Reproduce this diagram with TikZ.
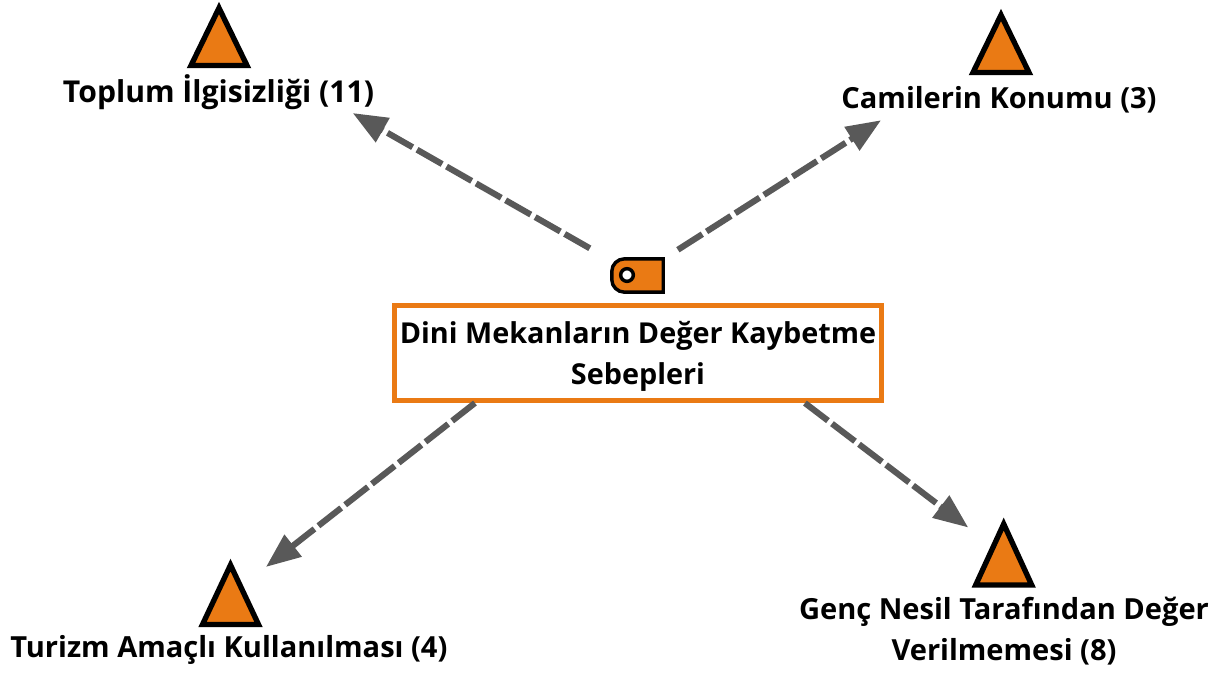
\documentclass[tikz,border=0pt]{standalone}
\usepackage{fontspec}
\setmainfont{Open Sans}
\usetikzlibrary{arrows.meta}
\definecolor{orangeA}{HTML}{EA7A14}
\definecolor{greyA}{HTML}{595959}
\tikzset{
  lbl/.style={font=\fontsize{21.8}{30.75}\selectfont\bfseries,align=center,inner sep=0pt,text=black},
  lblwide/.style={lbl,font=\fontsize{22.6}{30.75}\selectfont\bfseries},
  mainbox/.style={draw=orangeA,line width=3.75pt,fill=white,minimum width=364.9pt,minimum height=71.25pt,inner sep=0pt,outer sep=0pt},
  tagbox/.style={minimum width=38.6pt,minimum height=25pt,inner sep=0pt,outer sep=0pt},
  tagbody/.style={draw=black,line width=2.6pt,fill=orangeA,line join=miter},
  hole/.style={circle,draw=black,line width=2.6pt,fill=white,minimum size=9.5pt,inner sep=0pt},
  anchorbox/.style={minimum width=42pt,inner sep=0pt,outer sep=0pt},
  tribody/.style={draw=black,line width=4pt,fill=orangeA,miter limit=10,line join=miter},
  conn/.style={draw=greyA,line width=4.6pt,dash pattern=on 21.7pt off 3.8pt,-{Triangle[length=26pt,width=20pt,fill=greyA]}},
}
\newcommand{\tri}[4]{%
  \node[anchorbox,minimum height=#4*0.75pt] (#1) at (#2,#3) {};
  \draw[tribody] (#1.north) -- (#1.south west) -- (#1.south east) -- cycle;}
\begin{document}
\begin{tikzpicture}[x=0.75pt,y=-0.75pt]
\useasboundingbox (0,0) rectangle (1231,675);
\fill[white] (0,0) rectangle (1231,675);
\tri{tA}{219}{36.75}{57.5}
\tri{tB}{1001}{43.75}{57.5}
\tri{tC}{230.5}{594.75}{59.5}
\tri{tD}{1003.7}{554.5}{61}
\node[tagbox] (tag) at (637.5,275.5) {};
\draw[tagbody] (tag.north east) -- (tag.south east) [rounded corners=9.5pt] -- (tag.south west) -- (tag.north west) [sharp corners] -- cycle;
\node[hole] (tagh) at (627,275) {};
\node[mainbox] (box) at (637.75,352.5) {};
\node[lbl,font=\fontsize{21.6}{30.75}\selectfont\bfseries] (title) at (638,356) {Dini Mekanların Değer Kaybetme\\Sebepleri};
\node[lblwide] (lA) at (218.5,92) {Toplum İlgisizliği (11)};
\node[lbl] (lB) at (999,100) {Camilerin Konumu (3)};
\node[lbl] (lC) at (229,650) {Turizm Amaçlı Kullanılması (4)};
\node[lbl] (lD) at (1004,631) {Genç Nesil Tarafından Değer\\Verilmemesi (8)};
\draw[conn,shorten <=54.9*0.75pt,shorten >=153.9*0.75pt] (tag.center) -- (tA.center);
\draw[conn,shorten <=47.9*0.75pt,shorten >=142.2*0.75pt] (tag.center) -- (tB.center);
\draw[conn,shorten <=206.6*0.75pt,shorten >=45*0.75pt] (tag.center) -- (tC.center);
\draw[conn,shorten <=210.5*0.75pt,shorten >=44.5*0.75pt] (tag.center) -- (tD.center);
\end{tikzpicture}
\end{document}
